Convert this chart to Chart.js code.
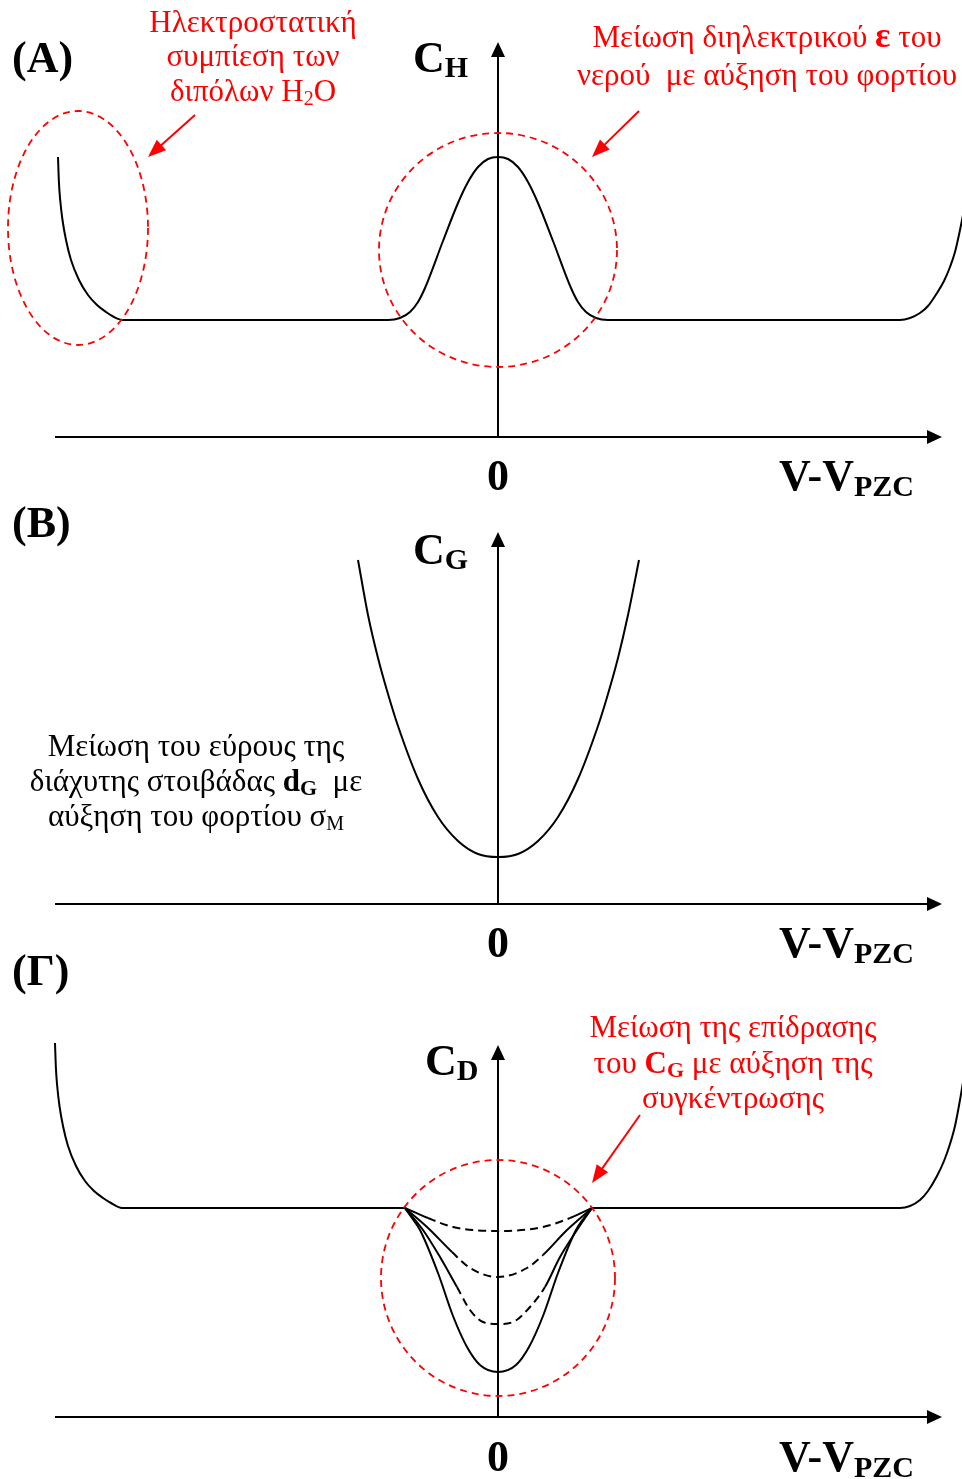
<!DOCTYPE html>
<html>
<head>
<meta charset="utf-8">
<script src="https://cdn.jsdelivr.net/npm/chart.js@4.4.1/dist/chart.umd.min.js"></script>
<style>
  html, body { margin: 0; padding: 0; background: #fff; }
  #wrap { width: 962px; height: 1479px; }
</style>
</head>
<body>
<div id="wrap"><canvas id="cv" width="962" height="1479"></canvas></div>
<script>
// ---------- (A) Helmholtz capacitance C_H vs V - V_pzc ----------
const chA_V = [-4.40, -4.392, -4.378, -4.355, -4.32, -4.27, -4.19, -4.10, -4.01, -3.92, -3.84, -3.75,
               -1.10, -0.98, -0.88, -0.80, -0.73, -0.55, -0.40, -0.30, -0.20, -0.10, 0,
               0.10, 0.20, 0.30, 0.40, 0.55, 0.73, 0.80, 0.88, 0.98, 1.10,
               4.02, 4.12, 4.22, 4.30, 4.39, 4.46, 4.52, 4.57, 4.62, 4.68];
const chA_C = [2.80, 2.57, 2.37, 2.17, 1.97, 1.77, 1.57, 1.42, 1.32, 1.25, 1.20, 1.17,
               1.17, 1.19, 1.25, 1.35, 1.49, 1.96, 2.34, 2.55, 2.70, 2.78, 2.80,
               2.78, 2.70, 2.55, 2.34, 1.96, 1.49, 1.35, 1.25, 1.19, 1.17,
               1.17, 1.19, 1.24, 1.31, 1.44, 1.56, 1.70, 1.85, 2.07, 2.37];

// ---------- (B) diffuse-layer capacitance C_G ----------
const cgB_V = [-1.40, -1.30, -1.20, -1.10, -1.00, -0.80, -0.60, -0.40, -0.20, 0,
               0.20, 0.40, 0.60, 0.80, 1.00, 1.10, 1.20, 1.30, 1.41];
const cgB_C = [3.44, 2.89, 2.46, 2.10, 1.78, 1.25, 0.87, 0.63, 0.50, 0.47,
               0.50, 0.63, 0.87, 1.25, 1.78, 2.10, 2.46, 2.89, 3.44];

// ---------- (Γ) total double-layer capacitance C_D ----------
// outer branches (same for every concentration)
const cdLeft_V = [-4.43, -4.422, -4.408, -4.385, -4.35, -4.30, -4.22, -4.13, -4.04, -3.95, -3.87, -3.76, -0.93];
const cdLeft_C = [3.74, 3.51, 3.31, 3.11, 2.91, 2.71, 2.51, 2.36, 2.26, 2.19, 2.14, 2.09, 2.09];
const cdRight_V = [0.94, 4.02, 4.12, 4.22, 4.30, 4.39, 4.46, 4.52, 4.57, 4.62, 4.68];
const cdRight_C = [2.09, 2.09, 2.11, 2.17, 2.26, 2.41, 2.56, 2.73, 2.91, 3.17, 3.53];
// lowest concentration: deep minimum at V_pzc
const cdLow_V = [-0.93, -0.86, -0.78, -0.60, -0.45, -0.31, -0.18, 0, 0.18, 0.31, 0.45, 0.60, 0.78, 0.86, 0.94];
const cdLow_C = [2.09, 1.99, 1.87, 1.44, 1.01, 0.70, 0.52, 0.45, 0.52, 0.70, 1.01, 1.44, 1.87, 1.99, 2.09];
// increasing concentrations: the minimum fades out
const cdMid1_V = [-0.93, -0.75, -0.58, -0.41, -0.28, -0.15, 0, 0.15, 0.32, 0.47, 0.62, 0.79, 0.94];
const cdMid1_C = [2.09, 1.87, 1.60, 1.30, 1.07, 0.95, 0.93, 0.95, 1.10, 1.30, 1.60, 1.87, 2.09];
const cdMid2_V = [-0.93, -0.71, -0.46, -0.28, 0, 0.29, 0.45, 0.69, 0.94];
const cdMid2_C = [2.09, 1.90, 1.65, 1.49, 1.40, 1.49, 1.62, 1.87, 2.09];
const cdHigh_V = [-0.93, -0.70, -0.45, 0, 0.45, 0.72, 0.94];
const cdHigh_C = [2.09, 1.99, 1.90, 1.86, 1.90, 1.99, 2.09];

// ---------- layout ----------
const W = 962, H = 1479, PX = 100;      // 100 px per unit on every axis
const ORIGIN_X = 498;
const AXIS_Y = { yA: 437, yB: 904, yC: 1417 };
const SERIF = '"Liberation Serif", "Times New Roman", serif';
const RED = '#ff0000';

function pts(xs, ys) { return xs.map((x, i) => ({ x: x, y: ys[i] })); }

function curve(xs, ys, axisId, extra) {
  return Object.assign({
    data: pts(xs, ys), yAxisID: axisId, showLine: true,
    borderColor: '#000', borderWidth: 2, pointRadius: 0, fill: false,
    cubicInterpolationMode: 'monotone'
  }, extra || {});
}

// dashed only for the central part of a curve
function dashInside(lo, hi) {
  return {
    segment: {
      borderDash: ctx => (ctx.p0.parsed.x >= lo - 1e-6 && ctx.p1.parsed.x <= hi + 1e-6) ? [8, 5] : undefined
    }
  };
}

function yScale(id) {
  const a = AXIS_Y[id];
  return { type: 'linear', display: false, min: -(H - a) / PX, max: a / PX };
}

// axes with arrowheads, per panel
const AXES = [
  { y: 'yA', xFrom: -4.43, xTo: 4.44, yTop: 3.95 },
  { y: 'yB', xFrom: -4.43, xTo: 4.44, yTop: 3.72 },
  { y: 'yC', xFrom: -4.43, xTo: 4.44, yTop: 3.72 }
];

// dashed red outlines (centre and radii in data units)
const RINGS = [
  { y: 'yA', cx: -4.20, cy: 2.09, rx: 0.70, ry: 1.17 },
  { y: 'yA', cx: 0.00, cy: 1.87, rx: 1.19, ry: 1.17 },
  { y: 'yC', cx: 0.00, cy: 1.39, rx: 1.17, ry: 1.18 }
];

// red pointer arrows (data units)
const POINTERS = [
  { y: 'yA', x0: -3.03, y0: 3.22, x1: -3.50, y1: 2.80 },
  { y: 'yA', x0: 1.41, y0: 3.26, x1: 0.94, y1: 2.80 },
  { y: 'yC', x0: 1.42, y0: 3.02, x1: 0.94, y1: 2.34 }
];

const B44 = 'bold 44px ' + SERIF;
const BSUB = 'bold 30px ' + SERIF;
const R31 = '31px ' + SERIF;
const RSUB = '20px ' + SERIF;
const B31 = 'bold 31px ' + SERIF;
const BSUB2 = 'bold 22px ' + SERIF;

// text blocks: [x, baseline, align, colour, runs]
const TEXTS = [
  [12, 72, 'left', '#000', [['(A)', B44]]],
  [413, 72, 'left', '#000', [['C', B44], ['H', BSUB, 5]]],
  [498, 490, 'center', '#000', [['0', B44]]],
  [779, 490, 'left', '#000', [['V-V', B44], ['PZC', BSUB, 6]]],
  [253, 32, 'center', RED, [['Ηλεκτροστατική', R31]]],
  [253, 66, 'center', RED, [['συμπίεση των', R31]]],
  [253, 101, 'center', RED, [['διπόλων H', R31], ['2', RSUB, 4], ['O', R31]]],
  [767, 47, 'center', RED, [['Μείωση διηλεκτρικού ', R31], ['ε', 'bold 36px ' + SERIF], [' του', R31]]],
  [767, 85, 'center', RED, [['νερού  με αύξηση του φορτίου', R31]]],

  [12, 537, 'left', '#000', [['(B)', B44]]],
  [413, 564, 'left', '#000', [['C', B44], ['G', BSUB, 5]]],
  [498, 957, 'center', '#000', [['0', B44]]],
  [779, 957, 'left', '#000', [['V-V', B44], ['PZC', BSUB, 6]]],
  [196, 756, 'center', '#000', [['Μείωση του εύρους της', R31]]],
  [196, 791, 'center', '#000', [['διάχυτης στοιβάδας ', R31], ['d', B31], ['G', BSUB2, 4], ['  με', R31]]],
  [196, 826, 'center', '#000', [['αύξηση του φορτίου σ', R31], ['M', RSUB, 4]]],

  [12, 985, 'left', '#000', [['(Γ)', B44]]],
  [425, 1075, 'left', '#000', [['C', B44], ['D', BSUB, 5]]],
  [498, 1471, 'center', '#000', [['0', B44]]],
  [779, 1471, 'left', '#000', [['V-V', B44], ['PZC', BSUB, 6]]],
  [733, 1037, 'center', RED, [['Μείωση της επίδρασης', R31]]],
  [733, 1073, 'center', RED, [['του ', R31], ['C', B31], ['G', BSUB2, 4], [' με αύξηση της', R31]]],
  [733, 1108, 'center', RED, [['συγκέντρωσης', R31]]]
];

function arrowHead(ctx, x0, y0, x1, y1, len, half) {
  const a = Math.atan2(y1 - y0, x1 - x0);
  const bx = x1 - len * Math.cos(a), by = y1 - len * Math.sin(a);
  ctx.beginPath();
  ctx.moveTo(x1, y1);
  ctx.lineTo(bx + half * Math.sin(a), by - half * Math.cos(a));
  ctx.lineTo(bx - half * Math.sin(a), by + half * Math.cos(a));
  ctx.closePath();
  ctx.fill();
}

const decor = {
  id: 'decor',
  beforeDatasetsDraw(chart) {
    const ctx = chart.ctx, xs = chart.scales.x;
    ctx.save();
    ctx.strokeStyle = '#000'; ctx.fillStyle = '#000'; ctx.lineWidth = 2;
    AXES.forEach(a => {
      const ys = chart.scales[a.y];
      const y0 = ys.getPixelForValue(0), x0 = xs.getPixelForValue(0);
      const xl = xs.getPixelForValue(a.xFrom), xr = xs.getPixelForValue(a.xTo);
      const yt = ys.getPixelForValue(a.yTop);
      ctx.beginPath(); ctx.moveTo(xl, y0); ctx.lineTo(xr - 10, y0); ctx.stroke();
      arrowHead(ctx, xl, y0, xr, y0, 15, 7);
      ctx.beginPath(); ctx.moveTo(x0, y0); ctx.lineTo(x0, yt + 10); ctx.stroke();
      arrowHead(ctx, x0, y0, x0, yt, 15, 7);
    });
    ctx.restore();
  },
  afterDatasetsDraw(chart) {
    const ctx = chart.ctx, xs = chart.scales.x;
    ctx.save();
    ctx.strokeStyle = RED; ctx.fillStyle = RED; ctx.lineWidth = 1.8;
    ctx.setLineDash([7, 5]);
    RINGS.forEach(r => {
      const ys = chart.scales[r.y];
      const cx = xs.getPixelForValue(r.cx), cy = ys.getPixelForValue(r.cy);
      const rx = Math.abs(xs.getPixelForValue(r.cx + r.rx) - cx);
      const ry = Math.abs(ys.getPixelForValue(r.cy + r.ry) - cy);
      ctx.beginPath(); ctx.ellipse(cx, cy, rx, ry, 0, 0, Math.PI * 2); ctx.stroke();
    });
    ctx.setLineDash([]);
    ctx.lineWidth = 2;
    POINTERS.forEach(p => {
      const ys = chart.scales[p.y];
      const x0 = xs.getPixelForValue(p.x0), y0 = ys.getPixelForValue(p.y0);
      const x1 = xs.getPixelForValue(p.x1), y1 = ys.getPixelForValue(p.y1);
      const a = Math.atan2(y1 - y0, x1 - x0);
      ctx.beginPath(); ctx.moveTo(x0, y0);
      ctx.lineTo(x1 - 12 * Math.cos(a), y1 - 12 * Math.sin(a)); ctx.stroke();
      arrowHead(ctx, x0, y0, x1, y1, 18, 7);
    });
    ctx.textBaseline = 'alphabetic';
    TEXTS.forEach(([x, y, align, col, runs]) => {
      let w = 0;
      runs.forEach(r => { ctx.font = r[1]; w += ctx.measureText(r[0]).width; });
      let cx = align === 'center' ? x - w / 2 : x;
      ctx.fillStyle = col;
      runs.forEach(r => {
        ctx.font = r[1];
        ctx.textAlign = 'left';
        ctx.fillText(r[0], cx, y + (r[2] || 0));
        cx += ctx.measureText(r[0]).width;
      });
    });
    ctx.restore();
  }
};

new Chart(document.getElementById('cv'), {
  type: 'scatter',
  data: {
    datasets: [
      curve(chA_V, chA_C, 'yA'),
      curve(cgB_V, cgB_C, 'yB'),
      curve(cdLeft_V, cdLeft_C, 'yC'),
      curve(cdRight_V, cdRight_C, 'yC'),
      curve(cdLow_V, cdLow_C, 'yC'),
      curve(cdMid1_V, cdMid1_C, 'yC', dashInside(-0.41, 0.47)),
      curve(cdMid2_V, cdMid2_C, 'yC', dashInside(-0.46, 0.45)),
      curve(cdHigh_V, cdHigh_C, 'yC', dashInside(-0.70, 0.72))
    ]
  },
  options: {
    responsive: false,
    animation: false,
    events: [],
    layout: { padding: 0 },
    plugins: { legend: { display: false }, tooltip: { enabled: false }, title: { display: false } },
    scales: {
      x: { type: 'linear', display: false, min: -ORIGIN_X / PX, max: (W - ORIGIN_X) / PX },
      yA: yScale('yA'),
      yB: yScale('yB'),
      yC: yScale('yC')
    }
  },
  plugins: [decor]
});
</script>
</body>
</html>
